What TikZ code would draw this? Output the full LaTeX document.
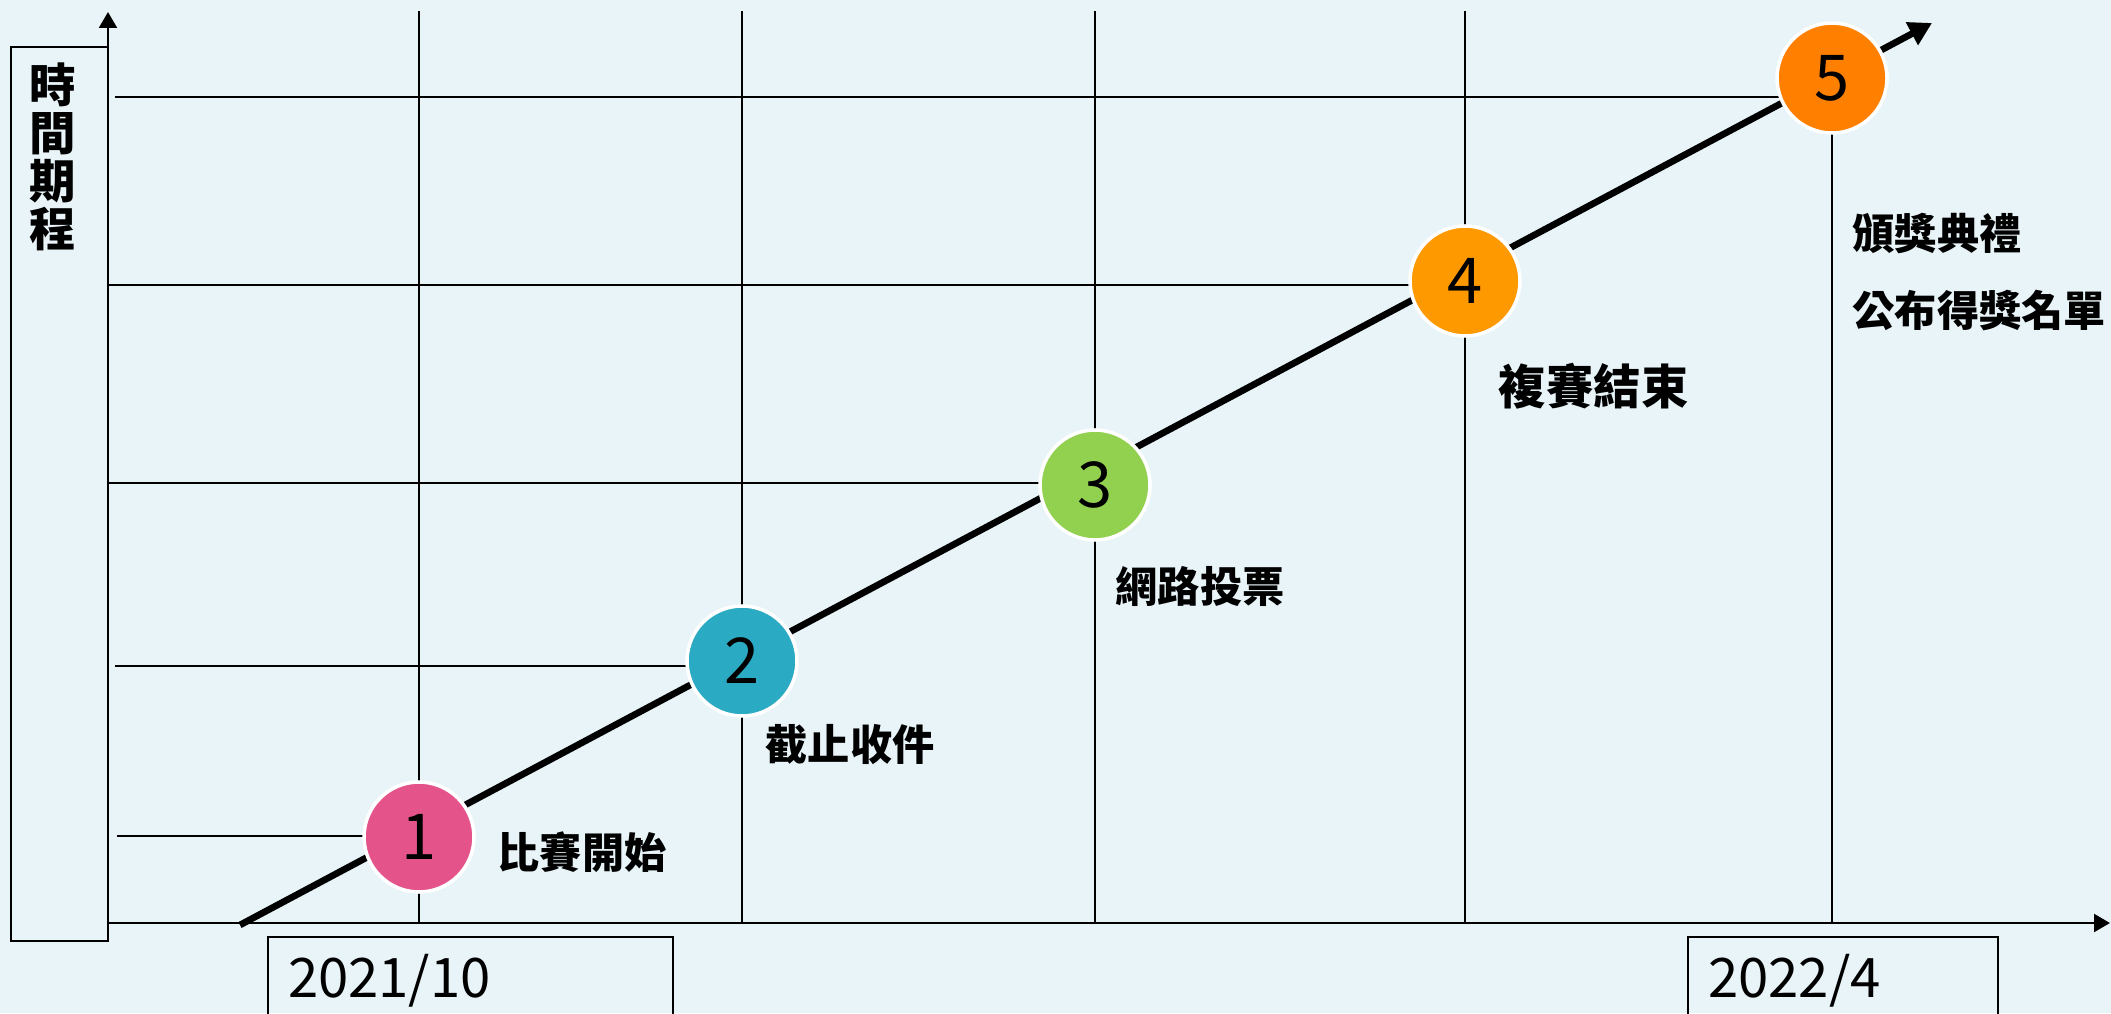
\documentclass[tikz,border=0pt]{standalone}
\usepackage{fontspec}
\setmainfont{Noto Sans CJK TC}
\usetikzlibrary{arrows.meta, positioning, calc}
\definecolor{bgBlue}{RGB}{232,244,248}
\definecolor{stagePink}{RGB}{228,84,138}
\definecolor{stageTeal}{RGB}{43,170,195}
\definecolor{stageGreen}{RGB}{146,208,80}
\definecolor{stageAmber}{RGB}{255,153,0}
\definecolor{stageOrange}{RGB}{255,127,0}

\begin{document}
\begin{tikzpicture}[
    stage/.style={circle, draw=white, line width=1pt, minimum size=1.1cm, inner sep=0pt,
                  font=\fontsize{18}{20}\selectfont},
    tag/.style={anchor=west, inner sep=0pt, font=\bfseries\fontsize{12}{14}\selectfont},
    gridline/.style={line width=0.5pt, black},
    axis/.style={-{Triangle[length=4.5pt, width=5pt]}, line width=0.8pt},
    trend/.style={-{Triangle[length=6.5pt, width=7pt]}, line width=1.9pt},
    datebox/.style={draw, line width=0.6pt, anchor=north west, text width=3.65cm, align=left,
                    inner xsep=0.2cm, inner ysep=0.18cm, text height=0.42cm, text depth=0.8cm,
                    font=\fontsize{15.5}{18}\selectfont}
]
    \fill[bgBlue] (0,0) rectangle (21.11,10.13);
    \clip (0,0) rectangle (21.11,10.13);

    % Left frame with vertical title
    \node[draw, line width=0.6pt, minimum width=0.97cm, minimum height=8.94cm, inner sep=0pt] (frame) at (0.595,5.19) {};
    \node[font=\bfseries\fontsize{13.2}{13.7}\selectfont, align=center, below=0.04cm of frame.north, xshift=-0.07cm] (ylabel) {時\\間\\期\\程};

    % Grid
    \foreach \x in {4.19, 7.42, 10.95, 14.65}
        \draw[gridline] (\x,0.90) -- (\x,10.02);
    \draw[gridline] (18.32,0.90) -- (18.32,9.35);
    \foreach \y/\xa/\xb in {9.16/1.15/18.32, 7.28/1.08/14.65, 5.30/1.08/10.95, 3.47/1.15/7.42, 1.77/1.17/4.19}
        \draw[gridline] (\xa,\y) -- (\xb,\y);

    % Axes
    \coordinate (origin) at (1.08,0.90);
    \coordinate (ytip) at (1.08,10.01);
    \coordinate (xtip) at (21.10,0.90);
    \draw[axis] (origin) -- (ytip);
    \draw[axis] (origin) -- (xtip);

    % Trend line
    \coordinate (tstart) at (2.40,0.88);
    \coordinate (tend) at (19.32,9.90);
    \draw[trend] (tstart) -- (tend);

    % Stages
    \node[stage, fill=stagePink] (s1) at (4.19,1.76) {1};
    \node[stage, fill=stageTeal] (s2) at (7.42,3.52) {2};
    \node[stage, fill=stageGreen] (s3) at (10.95,5.28) {3};
    \node[stage, fill=stageAmber] (s4) at (14.65,7.32) {4};
    \node[stage, fill=stageOrange] (s5) at (18.32,9.35) {5};

    % Stage labels
    \node[tag] (t1) at (4.97,1.61) {比賽開始};
    \node[tag] (t2) at (7.65,2.68) {截止收件};
    \node[tag] (t3) at (11.15,4.27) {網路投票};
    \node[tag, font=\bfseries\fontsize{13.5}{16}\selectfont] (t4) at (14.98,6.27) {複賽結束};
    \node[tag] (t5a) at (18.52,7.79) {頒獎典禮};
    \node[tag] (t5b) at (18.52,7.02) {公布得獎名單};

    % Dates
    \node[datebox] (d1) at (2.67,0.77) {2021/10};
    \node[datebox, text width=2.7cm] (d2) at (16.87,0.77) {2022/4};
\end{tikzpicture}
\end{document}
